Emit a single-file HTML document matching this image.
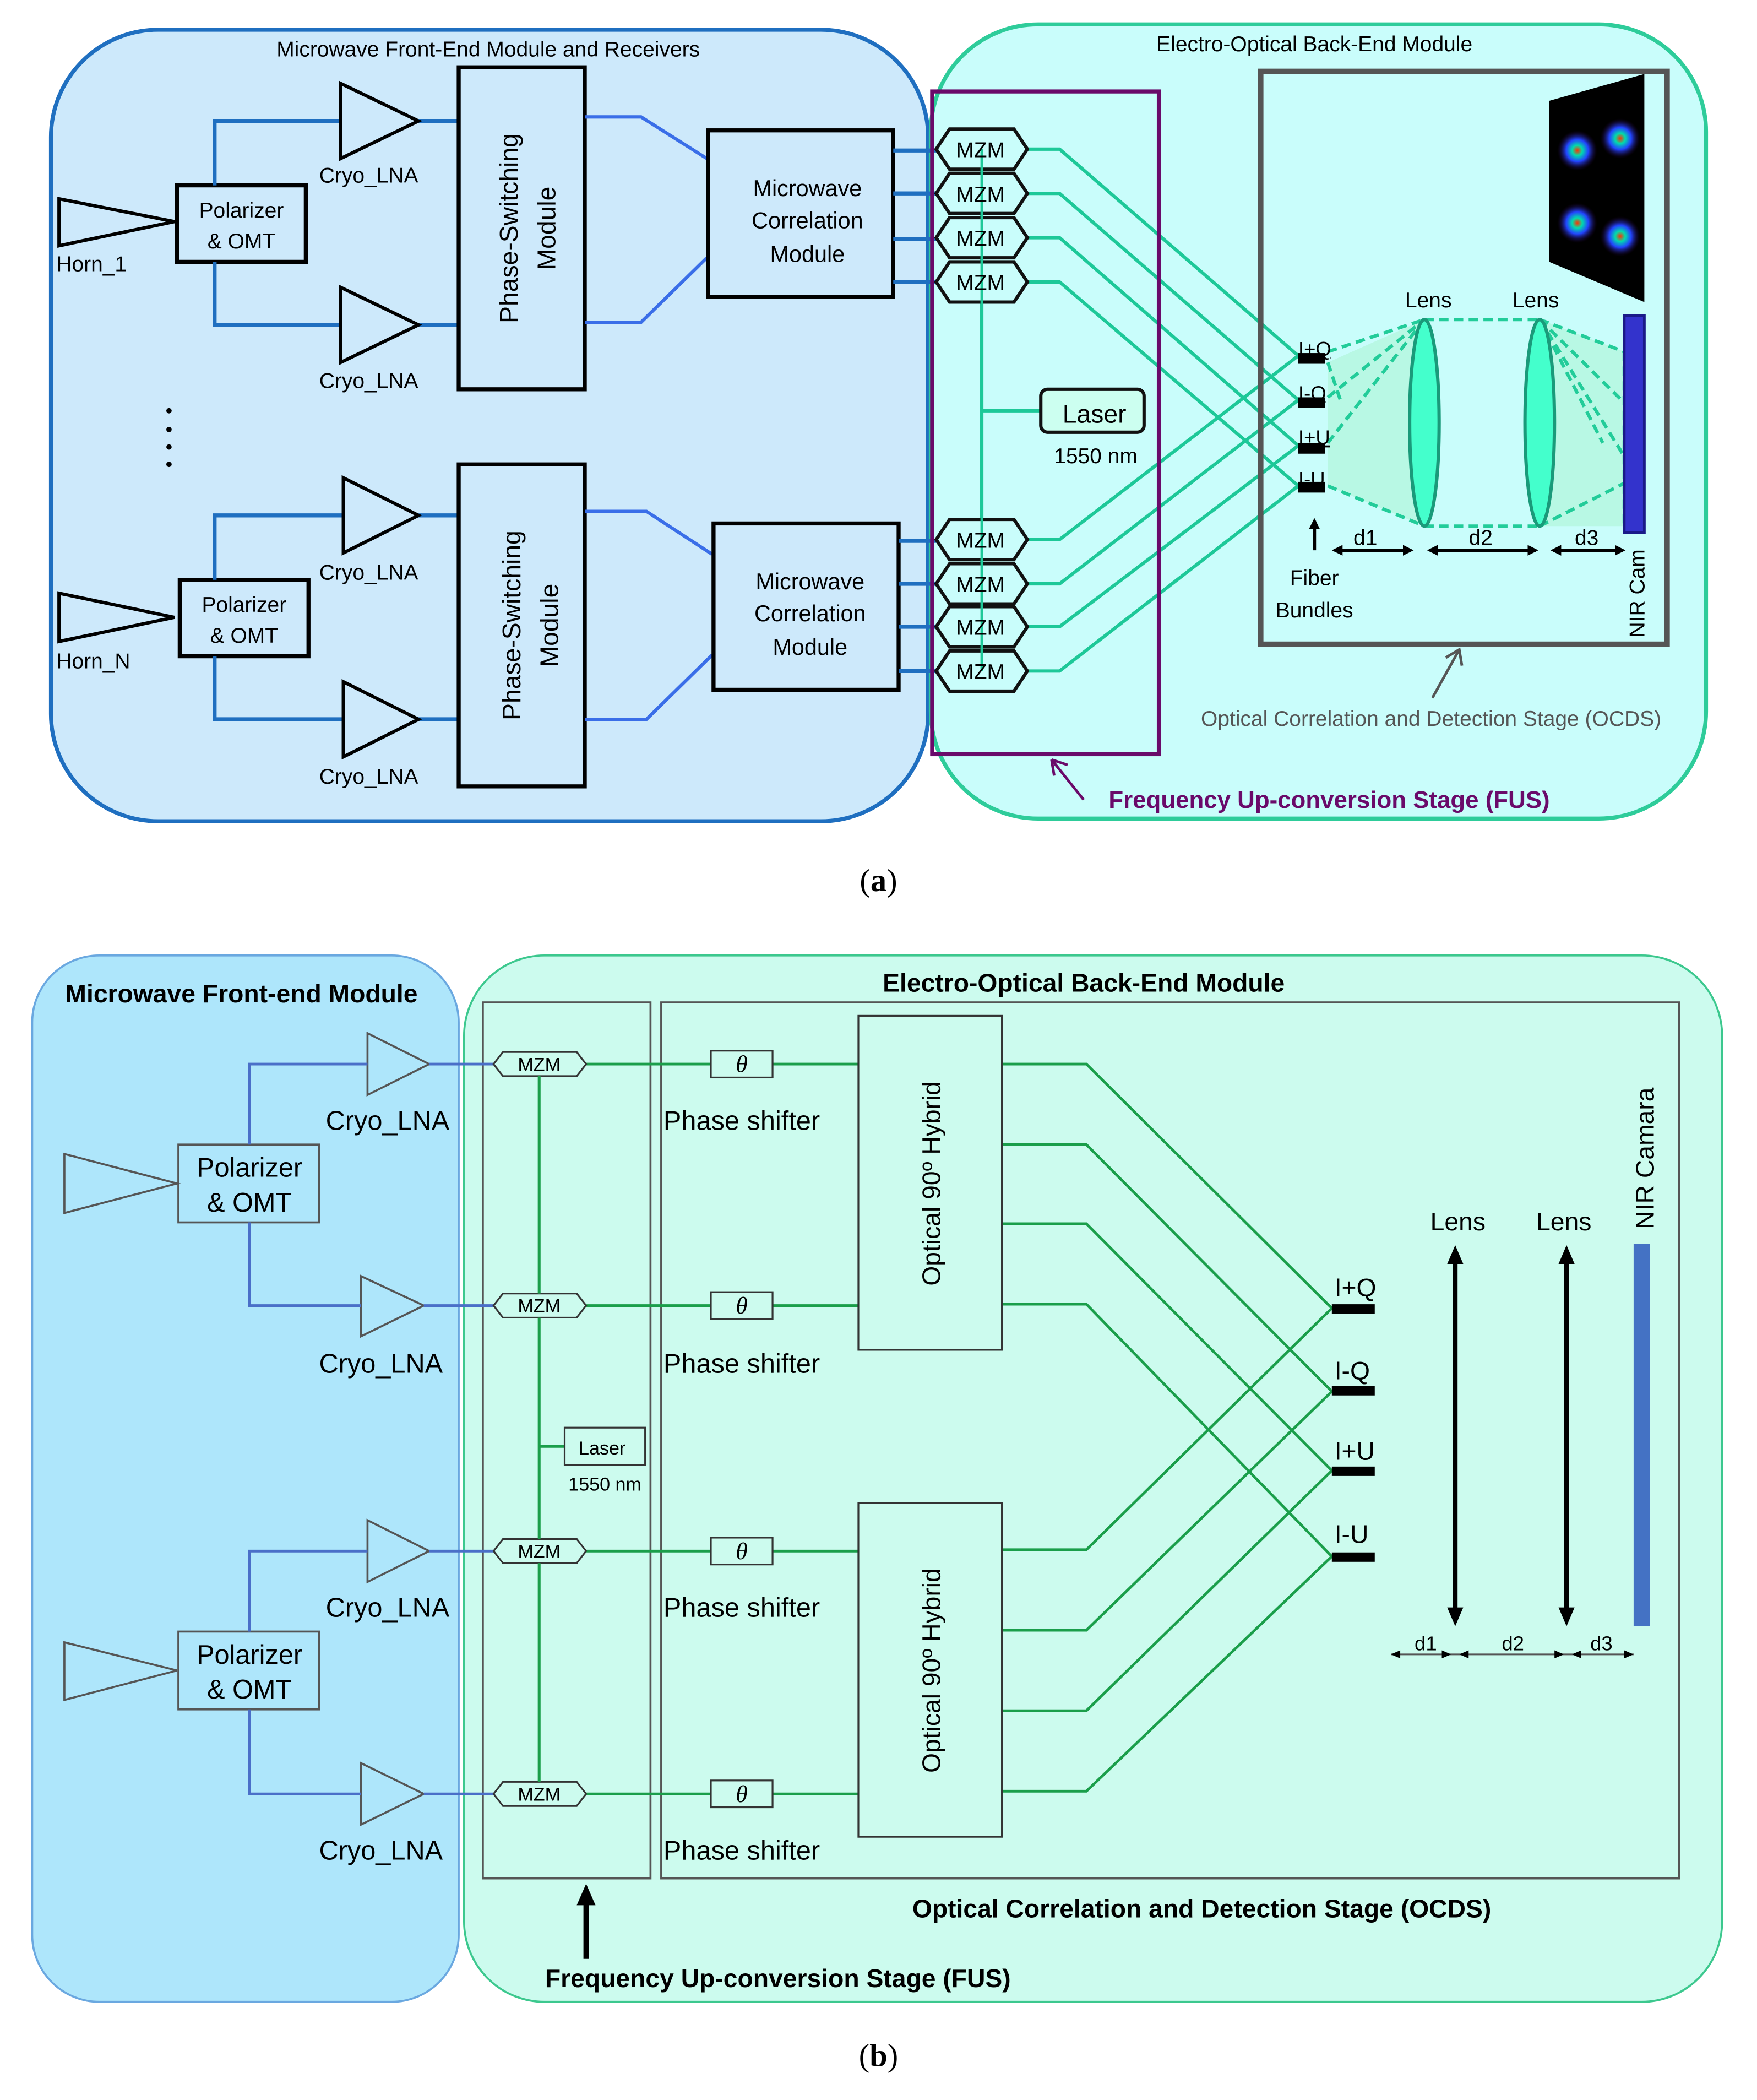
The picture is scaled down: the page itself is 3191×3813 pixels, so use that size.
<!DOCTYPE html>
<html><head><meta charset="utf-8"><style>html,body{margin:0;padding:0;background:#fff}svg{display:block}</style></head>
<body>
<svg xmlns="http://www.w3.org/2000/svg" width="3191" height="3813" viewBox="0 0 1310 1565" font-family="Liberation Sans, sans-serif">
<defs>
<marker id="ah" markerWidth="8" markerHeight="8" refX="6" refY="4" orient="auto-start-reverse" markerUnits="userSpaceOnUse"><path d="M0,0 L8,4 L0,8 z" fill="#000"/></marker>
<radialGradient id="blob"><stop offset="0" stop-color="#ff3300"/><stop offset="0.25" stop-color="#00ddaa"/><stop offset="0.55" stop-color="#2244ff"/><stop offset="1" stop-color="#220033" stop-opacity="0"/></radialGradient>
</defs>
<rect width="1310" height="1565" fill="#fff"/>
<!-- ===== Panel (a) ===== -->
<rect x="38" y="22" width="654" height="590" rx="80" fill="#cde9fb" stroke="#1f6fc0" stroke-width="3"/>
<rect x="694" y="18" width="578" height="592" rx="80" fill="#c9fdfb" stroke="#2ecc9a" stroke-width="3"/>
<text x="364" y="42" font-size="16" text-anchor="middle">Microwave Front-End Module and Receivers</text>
<text x="980" y="38" font-size="16" text-anchor="middle">Electro-Optical Back-End Module</text>

<g>
<polygon points="44,148 130,165 44,183" fill="none" stroke="#000" stroke-width="2.5"/>
<rect x="132" y="138" width="96" height="57" fill="none" stroke="#000" stroke-width="3"/>
<text x="180" y="162" font-size="16" text-anchor="middle">Polarizer</text>
<text x="180" y="185" font-size="16" text-anchor="middle">&amp; OMT</text>
<path d="M160,138 V90 H254 M160,195 V242 H254 M312,90 H342 M312,242 H342" fill="none" stroke="#1f6fc0" stroke-width="3"/>
<polygon points="254,62 312,90 254,118" fill="none" stroke="#000" stroke-width="2.5"/>
<polygon points="254,214 312,242 254,270" fill="none" stroke="#000" stroke-width="2.5"/>
<text x="238" y="136" font-size="16">Cryo_LNA</text>
<text x="238" y="289" font-size="16">Cryo_LNA</text>
<rect x="342" y="50" width="94" height="240" fill="none" stroke="#000" stroke-width="3"/>
<text transform="translate(386,170) rotate(-90)" font-size="19" text-anchor="middle">Phase-Switching</text>
<text transform="translate(414,170) rotate(-90)" font-size="19" text-anchor="middle">Module</text>
<path d="M436,87 H478 L527,118 M436,240 H478 L527,192" fill="none" stroke="#3a6ee8" stroke-width="2.5"/>
<rect x="528" y="97" width="138" height="124" fill="none" stroke="#000" stroke-width="3"/>
<text x="602" y="146" font-size="17" text-anchor="middle">Microwave</text>
<text x="602" y="170" font-size="17" text-anchor="middle">Correlation</text>
<text x="602" y="195" font-size="17" text-anchor="middle">Module</text>
</g>
<text x="42" y="202" font-size="16">Horn_1</text>

<g>
<polygon points="44,442 130,460 44,478" fill="none" stroke="#000" stroke-width="2.5"/>
<rect x="134" y="432" width="96" height="57" fill="none" stroke="#000" stroke-width="3"/>
<text x="182" y="456" font-size="16" text-anchor="middle">Polarizer</text>
<text x="182" y="479" font-size="16" text-anchor="middle">&amp; OMT</text>
<path d="M160,432 V384 H256 M160,489 V536 H256 M312,384 H342 M312,536 H342" fill="none" stroke="#1f6fc0" stroke-width="3"/>
<polygon points="256,356 312,384 256,412" fill="none" stroke="#000" stroke-width="2.5"/>
<polygon points="256,508 312,536 256,564" fill="none" stroke="#000" stroke-width="2.5"/>
<text x="238" y="432" font-size="16">Cryo_LNA</text>
<text x="238" y="584" font-size="16">Cryo_LNA</text>
<rect x="342" y="346" width="94" height="240" fill="none" stroke="#000" stroke-width="3"/>
<text transform="translate(388,466) rotate(-90)" font-size="19" text-anchor="middle">Phase-Switching</text>
<text transform="translate(416,466) rotate(-90)" font-size="19" text-anchor="middle">Module</text>
<path d="M436,381 H482 L531,413 M436,536 H482 L531,488" fill="none" stroke="#3a6ee8" stroke-width="2.5"/>
<rect x="532" y="390" width="138" height="124" fill="none" stroke="#000" stroke-width="3"/>
<text x="604" y="439" font-size="17" text-anchor="middle">Microwave</text>
<text x="604" y="463" font-size="17" text-anchor="middle">Correlation</text>
<text x="604" y="488" font-size="17" text-anchor="middle">Module</text>
</g>
<text x="42" y="498" font-size="16">Horn_N</text>
<g fill="#000"><circle cx="126" cy="306" r="2"/><circle cx="126" cy="320" r="2"/><circle cx="126" cy="333" r="2"/><circle cx="126" cy="346" r="2"/></g>

<path d="M666,112 H700 M666,144 H700 M666,178 H700 M666,210 H700 M670,403 H700 M670,435 H700 M670,467 H700 M670,500 H700" stroke="#1f6fc0" stroke-width="3"/>
<g stroke="#1dc898" stroke-width="2.5" fill="none">
<path d="M732,111 V500 M732,306 H776"/>
<path d="M764,111 H790 L968,265"/>
<path d="M764,144 H790 L968,298"/>
<path d="M764,177 H790 L968,332"/>
<path d="M764,210 H790 L968,362"/>
<path d="M764,402 H790 L968,265"/>
<path d="M764,435 H790 L968,298"/>
<path d="M764,467 H790 L968,332"/>
<path d="M764,500 H790 L968,362"/>
</g>
<g fill="#c9fdfb" stroke="#111" stroke-width="2.5">
<polygon points="698,111 708,96 756,96 766,111 756,126 708,126"/>
<polygon points="698,144 708,129 756,129 766,144 756,159 708,159"/>
<polygon points="698,177 708,162 756,162 766,177 756,192 708,192"/>
<polygon points="698,210 708,195 756,195 766,210 756,225 708,225"/>
<polygon points="698,402 708,387 756,387 766,402 756,417 708,417"/>
<polygon points="698,435 708,420 756,420 766,435 756,450 708,450"/>
<polygon points="698,467 708,452 756,452 766,467 756,482 708,482"/>
<polygon points="698,500 708,485 756,485 766,500 756,515 708,515"/>
</g>
<path d="M732,111 V500" stroke="#1dc898" stroke-width="2"/>
<g font-size="16" text-anchor="middle">
<text x="731" y="117">MZM</text><text x="731" y="150">MZM</text><text x="731" y="183">MZM</text><text x="731" y="216">MZM</text>
<text x="731" y="408">MZM</text><text x="731" y="441">MZM</text><text x="731" y="473">MZM</text><text x="731" y="506">MZM</text>
</g>
<rect x="776" y="290" width="77" height="32" rx="5" fill="#ccfff0" stroke="#111" stroke-width="2.5"/>
<text x="816" y="315" font-size="19" text-anchor="middle">Laser</text>
<text x="817" y="345" font-size="16" text-anchor="middle">1550 nm</text>
<rect x="695" y="68" width="169" height="494" fill="none" stroke="#6a0a6a" stroke-width="3"/>

<rect x="940" y="53" width="303" height="427" fill="none" stroke="#555" stroke-width="4"/>
<polygon points="1155,75 1226,55 1226,225 1155,195" fill="#000"/>
<g fill="url(#blob)"><circle cx="1176" cy="112" r="15"/><circle cx="1208" cy="103" r="15"/><circle cx="1176" cy="166" r="15"/><circle cx="1208" cy="176" r="15"/></g>
<polygon points="990,270 1062,238 1062,392 990,362" fill="#b8f8e4"/>
<polygon points="1148,238 1211,262 1211,392 1148,392" fill="#b8f8e4"/>
<g stroke="#22cc99" stroke-width="2.5" stroke-dasharray="7,4" fill="none">
<path d="M990,262 L1062,238 M990,296 L1062,238 M990,330 L1062,238 M990,362 L1062,392 M990,270 L1000,300 M1062,238 H1148 M1062,392 H1148"/>
<path d="M1148,238 L1211,262 M1148,238 L1211,300 M1148,238 L1211,340 M1148,392 L1211,360 M1211,262 V392 M1148,238 L1195,330"/>
</g>
<ellipse cx="1062" cy="315" rx="11" ry="77" fill="#44ffcc" stroke="#1a9a7a" stroke-width="2.5"/>
<ellipse cx="1148" cy="315" rx="11" ry="77" fill="#44ffcc" stroke="#1a9a7a" stroke-width="2.5"/>
<rect x="1211" y="235" width="15" height="162" fill="#3333cc" stroke="#1a1a88" stroke-width="2"/>
<g fill="#000"><rect x="968" y="263" width="20" height="8"/><rect x="968" y="296" width="20" height="8"/><rect x="968" y="330" width="20" height="8"/><rect x="968" y="359" width="20" height="8"/></g>
<g font-size="15" text-decoration="underline"><text x="968" y="265">I+Q</text><text x="968" y="298">I-Q</text><text x="968" y="331">I+U</text><text x="968" y="362">I-U</text></g>
<text x="1065" y="229" font-size="16" text-anchor="middle">Lens</text>
<text x="1145" y="229" font-size="16" text-anchor="middle">Lens</text>
<g stroke="#000" stroke-width="2.5" fill="none">
<path d="M980,410 V388" marker-end="url(#ah)"/>
<path d="M995,410 H1052" marker-end="url(#ah)" marker-start="url(#ah)"/>
<path d="M1066,410 H1145" marker-end="url(#ah)" marker-start="url(#ah)"/>
<path d="M1158,410 H1210" marker-end="url(#ah)" marker-start="url(#ah)"/>
</g>
<text x="1018" y="406" font-size="16" text-anchor="middle">d1</text>
<text x="1104" y="406" font-size="16" text-anchor="middle">d2</text>
<text x="1183" y="406" font-size="16" text-anchor="middle">d3</text>
<text x="980" y="436" font-size="16" text-anchor="middle">Fiber</text>
<text x="980" y="460" font-size="16" text-anchor="middle">Bundles</text>
<text transform="translate(1226,475) rotate(-90)" font-size="16">NIR Cam</text>
<path d="M1068,520 L1088,484" stroke="#555" stroke-width="2" fill="none"/>
<path d="M1078,490 L1088,484 L1090,496" stroke="#555" stroke-width="2" fill="none"/>
<text x="1067" y="541" font-size="16" fill="#555" text-anchor="middle">Optical Correlation and Detection Stage (OCDS)</text>
<path d="M808,596 L784,566 M784,566 L796,570 M784,566 L786,578" stroke="#6a0a6a" stroke-width="2" fill="none"/>
<text x="991" y="602" font-size="18" font-weight="bold" fill="#6a0a6a" text-anchor="middle">Frequency Up-conversion Stage (FUS)</text>
<text x="655" y="664" font-size="24" font-family="Liberation Serif, serif" text-anchor="middle">(<tspan font-weight="bold">a</tspan>)</text>

<!-- ===== Panel (b) ===== -->
<rect x="24" y="712" width="318" height="780" rx="50" fill="#aee6fb" stroke="#6aa8e0" stroke-width="1.5"/>
<rect x="346" y="712" width="938" height="780" rx="60" fill="#ccfbee" stroke="#3cc88e" stroke-width="1.5"/>
<text x="180" y="747" font-size="19" font-weight="bold" text-anchor="middle">Microwave Front-end Module</text>
<text x="808" y="739" font-size="19" font-weight="bold" text-anchor="middle">Electro-Optical Back-End Module</text>
<rect x="360" y="747" width="125" height="653" fill="none" stroke="#555" stroke-width="1.5"/>
<rect x="493" y="747" width="759" height="653" fill="none" stroke="#555" stroke-width="1.5"/>

<g stroke="#555" stroke-width="1.5" fill="none">
<polygon points="48,860 132,882 48,904"/>
<polygon points="48,1224 132,1245 48,1267"/>
<rect x="133" y="853" width="105" height="58"/>
<rect x="133" y="1216" width="105" height="58"/>
<polygon points="274,770 320,793 274,816"/>
<polygon points="269,951 316,973 269,996"/>
<polygon points="274,1133 320,1156 274,1179"/>
<polygon points="269,1314 316,1337 269,1360"/>
</g>
<g font-size="20" text-anchor="middle">
<text x="186" y="877">Polarizer</text><text x="186" y="903">&amp; OMT</text>
<text x="186" y="1240">Polarizer</text><text x="186" y="1266">&amp; OMT</text>
<text x="289" y="842">Cryo_LNA</text><text x="284" y="1023">Cryo_LNA</text>
<text x="289" y="1205">Cryo_LNA</text><text x="284" y="1386">Cryo_LNA</text>
</g>
<g stroke="#4a6fc8" stroke-width="2" fill="none">
<path d="M186,853 V793 H274 M186,911 V973 H269 M320,793 H368 M316,973 H368"/>
<path d="M186,1216 V1156 H274 M186,1274 V1337 H269 M320,1156 H368 M316,1337 H368"/>
</g>
<g stroke="#1a9e4a" stroke-width="2" fill="none">
<path d="M402,793 V1337 M402,1078 H421"/>
<path d="M437,793 H530 M576,793 H640"/>
<path d="M437,973 H530 M576,973 H640"/>
<path d="M437,1156 H530 M576,1156 H640"/>
<path d="M437,1337 H530 M576,1337 H640"/>
<path d="M747,793 H810 L993,975"/>
<path d="M747,853 H810 L993,1037"/>
<path d="M747,912 H810 L993,1096"/>
<path d="M747,972 H810 L993,1160"/>
<path d="M747,1155 H810 L993,975"/>
<path d="M747,1215 H810 L993,1037"/>
<path d="M747,1275 H810 L993,1096"/>
<path d="M747,1335 H810 L993,1160"/>
</g>
<g fill="#ccfbee" stroke="#333" stroke-width="1.3">
<polygon points="368,793 375,784 430,784 437,793 430,802 375,802"/>
<polygon points="368,973 375,964 430,964 437,973 430,982 375,982"/>
<polygon points="368,1156 375,1147 430,1147 437,1156 430,1165 375,1165"/>
<polygon points="368,1337 375,1328 430,1328 437,1337 430,1346 375,1346"/>
<rect x="530" y="783" width="46" height="20"/><rect x="530" y="963" width="46" height="20"/>
<rect x="530" y="1146" width="46" height="20"/><rect x="530" y="1327" width="46" height="20"/>
<rect x="421" y="1064" width="60" height="28"/>
<rect x="640" y="757" width="107" height="249"/>
<rect x="640" y="1120" width="107" height="249"/>
</g>
<path d="M402,802 V964 M402,982 V1147 M402,1165 V1328" stroke="#1a9e4a" stroke-width="2"/>
<g font-size="14" text-anchor="middle">
<text x="402" y="798">MZM</text><text x="402" y="978">MZM</text><text x="402" y="1161">MZM</text><text x="402" y="1342">MZM</text>
<text x="449" y="1084">Laser</text><text x="451" y="1111">1550 nm</text>
</g>
<g font-size="18" font-style="italic" font-family="Liberation Serif, serif" text-anchor="middle">
<text x="553" y="799">θ</text><text x="553" y="979">θ</text><text x="553" y="1162">θ</text><text x="553" y="1343">θ</text>
</g>
<g font-size="20" text-anchor="middle">
<text x="553" y="842">Phase shifter</text><text x="553" y="1023">Phase shifter</text>
<text x="553" y="1205">Phase shifter</text><text x="553" y="1386">Phase shifter</text>
</g>
<text transform="translate(701,882) rotate(-90)" font-size="19" text-anchor="middle">Optical 90º Hybrid</text>
<text transform="translate(701,1245) rotate(-90)" font-size="19" text-anchor="middle">Optical 90º Hybrid</text>
<g fill="#000"><rect x="993" y="972" width="32" height="7"/><rect x="993" y="1033" width="32" height="7"/><rect x="993" y="1093" width="32" height="7"/><rect x="993" y="1157" width="32" height="7"/></g>
<g font-size="19"><text x="995" y="966">I+Q</text><text x="995" y="1028">I-Q</text><text x="995" y="1088">I+U</text><text x="995" y="1150">I-U</text></g>
<text x="1087" y="917" font-size="19" text-anchor="middle">Lens</text>
<text x="1166" y="917" font-size="19" text-anchor="middle">Lens</text>
<g stroke="#000" stroke-width="3.5"><path d="M1085,940 V1200 M1168,940 V1200"/></g>
<g fill="#000">
<polygon points="1085,928 1079,942 1091,942"/><polygon points="1085,1212 1079,1198 1091,1198"/>
<polygon points="1168,928 1162,942 1174,942"/><polygon points="1168,1212 1162,1198 1174,1198"/>
</g>
<rect x="1218" y="927" width="12" height="285" fill="#4472c4"/>
<text transform="translate(1233,916) rotate(-90)" font-size="19">NIR Camara</text>
<path d="M1037,1233 H1218" stroke="#555" stroke-width="1.2"/>
<g fill="#000">
<polygon points="1037,1233 1044,1230 1044,1236"/><polygon points="1082,1233 1075,1230 1075,1236"/>
<polygon points="1088,1233 1095,1230 1095,1236"/><polygon points="1166,1233 1159,1230 1159,1236"/>
<polygon points="1172,1233 1179,1230 1179,1236"/><polygon points="1218,1233 1211,1230 1211,1236"/>
</g>
<g font-size="15" text-anchor="middle"><text x="1063" y="1230">d1</text><text x="1128" y="1230">d2</text><text x="1194" y="1230">d3</text></g>
<text x="896" y="1429" font-size="19" font-weight="bold" text-anchor="middle">Optical Correlation and Detection Stage (OCDS)</text>
<path d="M437,1460 V1418" stroke="#000" stroke-width="4"/>
<polygon points="437,1404 430,1420 444,1420" fill="#000"/>
<text x="580" y="1481" font-size="19" font-weight="bold" text-anchor="middle">Frequency Up-conversion Stage (FUS)</text>
<text x="655" y="1540" font-size="24" font-family="Liberation Serif, serif" text-anchor="middle">(<tspan font-weight="bold">b</tspan>)</text>
</svg>
</body></html>
